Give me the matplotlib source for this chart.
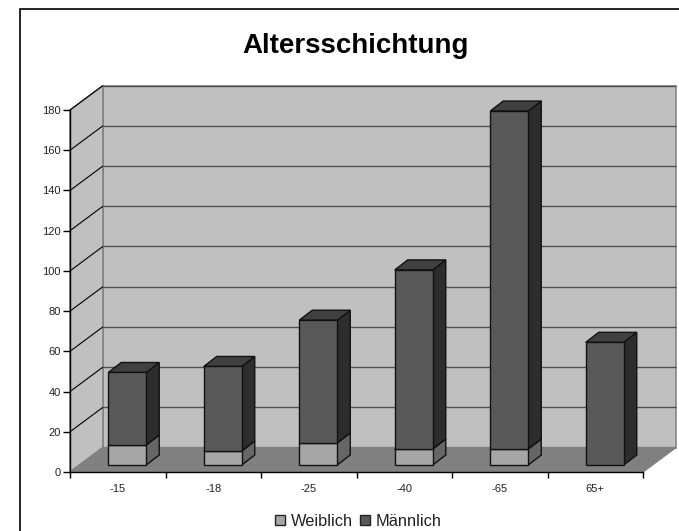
import matplotlib
matplotlib.use("Agg")
import matplotlib.pyplot as plt
from matplotlib.patches import Polygon, Patch, Rectangle

plt.rcParams['font.family'] = ['Liberation Sans', 'DejaVu Sans']

categories = ['-15', '-18', '-25', '-40', '-65', '65+']
weiblich = [10, 7, 11, 8, 8, 0]
maennlich = [36, 42, 61, 89, 168, 61]
yticks = list(range(0, 181, 20))

W, H = 679, 531
fig = plt.figure(figsize=(W / 100, H / 100), dpi=100, facecolor='white')
x0, x1, y0, y1 = 70.0, 643.0, 472.0, 110.0
ax = fig.add_axes([x0 / W, 1 - y0 / H, (x1 - x0) / W, (y0 - y1) / H])
ax.set_xlim(0, len(categories))
ax.set_ylim(0, 180)
ax.patch.set_visible(False)

px = len(categories) / (x1 - x0)
py = 180 / (y0 - y1)
DX, DY = 33 * px, 24.5 * py
GAPX, GAPY = 9.5 * px, 7 * py
BDX, BDY = 13 * px, 10 * py
BW = 38 * px

def poly(pts, fc, ec='#111111', lw=1.0, z=2):
    ax.add_patch(Polygon(pts, closed=True, facecolor=fc, edgecolor=ec, linewidth=lw,
                         joinstyle='miter', clip_on=False, zorder=z))

n = len(categories)
WALL = '#C0C0C0'; FLOOR = '#808080'; WEDGE = '#808080'
# back wall, side wall, floor
poly([(DX, DY), (n + DX, DY), (n + DX, 180 + DY), (DX, 180 + DY)], WALL, WEDGE, 1.1, 1)
poly([(0, 0), (DX, DY), (DX, 180 + DY), (0, 180)], WALL, WEDGE, 1.1, 1)
poly([(0, 0), (n, 0), (n + DX, DY), (DX, DY)], FLOOR, WEDGE, 1.0, 1.2)
for t in yticks[1:]:
    ax.plot([DX, n + DX], [t + DY, t + DY], color='#505050', lw=1.0, clip_on=False, zorder=1.1, solid_capstyle='butt')
    ax.plot([0, DX], [t, t + DY], color='black', lw=0.8, clip_on=False, zorder=1.1, solid_capstyle='butt')

def box(i, lo, hi, front, top, side, z):
    l = i + 0.5 - BW / 2 + GAPX
    r = l + BW
    b, t = lo + GAPY, hi + GAPY
    poly([(r, b), (r + BDX, b + BDY), (r + BDX, t + BDY), (r, t)], side, lw=1.0, z=z)
    poly([(l, t), (r, t), (r + BDX, t + BDY), (l + BDX, t + BDY)], top, lw=1.0, z=z)
    poly([(l, b), (r, b), (r, t), (l, t)], front, lw=1.0, z=z)

for i in range(n):
    w, m = weiblich[i], maennlich[i]
    if w > 0:
        box(i, 0, w, '#A6A6A6', '#808080', '#666666', 3)
    box(i, w, w + m, '#595959', '#404040', '#2D2D2D', 3)

for s in ('top', 'right'):
    ax.spines[s].set_visible(False)
ax.spines['left'].set_linewidth(1.0)
ax.spines['bottom'].set_linewidth(1.0)
ax.spines['left'].set_zorder(2)
ax.spines['bottom'].set_zorder(2)
ax.set_yticks(yticks)
ax.set_xticks(range(n + 1))
ax.set_xticklabels([])
ax.set_xticks([i + 0.5 for i in range(n)], minor=True)
ax.set_xticklabels(categories, minor=True)
ax.tick_params(axis='x', which='major', length=4, width=1.0, direction='out')
ax.tick_params(axis='x', which='minor', length=0, labelsize=8, pad=8.5, labelcolor='#222222')
ax.tick_params(axis='y', length=5, width=1.0, labelsize=8, pad=1.5, labelcolor='#222222')

fig.text(355.5 / W, 1 - 46 / H, 'Altersschichtung', ha='center', va='center', fontsize=20, fontweight='bold', color='black')
fig.legend(handles=[Patch(facecolor='#A6A6A6', edgecolor='#222222', label='Weiblich'),
                    Patch(facecolor='#595959', edgecolor='#222222', label='Männlich')],
           loc='center', bbox_to_anchor=(358.5 / W, 1 - 521 / H), ncol=2, frameon=False,
           fontsize=11.8, handlelength=0.6, handleheight=0.6, handletextpad=0.35, columnspacing=0.45,
           borderpad=0, borderaxespad=0, labelcolor='#222222')
fig.add_artist(Rectangle((19.5 / W, -0.02), 1.1, 1.02 - 8.5 / H, transform=fig.transFigure, fill=False,
                         edgecolor='black', linewidth=1.2))
fig.savefig('out.png', dpi=100)
